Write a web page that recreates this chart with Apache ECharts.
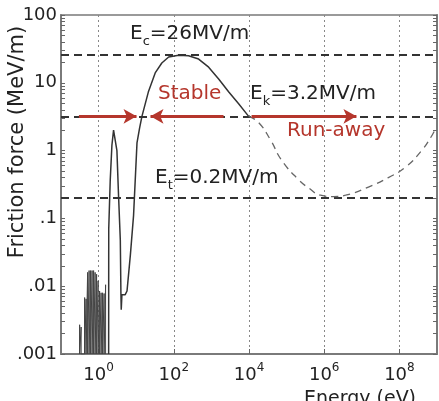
<!DOCTYPE html>
<html><head><meta charset="utf-8">
<script src="https://cdn.jsdelivr.net/npm/echarts@6/dist/echarts.min.js"></script>
<style>html,body{margin:0;padding:0;background:#fff}#c{width:439px;height:401px}</style>
</head><body><div id="c"></div>
<script>
// ---- data ----
const noiseEnergy = [0.313,0.343,0.425,0.465,0.510,0.559,0.613,0.672,0.736,0.807,0.885,0.97,1.063,1.165,1.277,1.40,1.535];
const noiseTop    = [0.0027,0.0025,0.0068,0.0065,0.016,0.017,0.017,0.017,0.017,0.016,0.015,0.012,0.0085,0.008,0.008,0.0078,0.0105];
const mainEnergy = [1.85,1.86,2.04,2.26,2.5,3.07,3.4,3.78,3.92,4.0,4.17,5.1,5.7,7.0,8.5,10.5,12.3,14.2,21,32,48,73,134,247,457,845,1560,2900,5300,9800];
const mainForce  = [0.001,0.07,0.37,1.2,2.0,1.0,0.21,0.048,0.0079,0.0045,0.0075,0.0075,0.0085,0.029,0.11,1.3,2.15,3.2,7.3,14,19.6,24,25.5,25,22.4,17,11.4,7.3,4.9,3.2];
const dashEnergy = [9800,18000,37000,74000,2.1e5,3.9e5,8e5,1.8e6,3.7e6,1.5e7,5.1e7,1.45e8,3.9e8,7.0e8,9.1e8];
const dashForce  = [3.2,2.6,1.45,0.72,0.37,0.28,0.22,0.21,0.22,0.29,0.40,0.57,1.0,1.6,2.1];
const fieldValues = [26, 3.2, 0.2];            // Ec, Ek, Et (MV/m)
const arrowFrom = [0.3, 2100, 11700];
const arrowTo   = [10.2, 24, 7.2e6];
const xTickValues = [1, 100, 1e4, 1e6, 1e8];
const yTickValues = [0.001, 0.01, 0.1, 1, 10, 100];
const yTickLabels = ['.001', '.01', '.1', '1', '10', '100'];

// ---- build ----
const FONT = '"DejaVu Sans", sans-serif';
const RED = '#b5362c';
const INK = '#222';
const noiseData = [];
noiseEnergy.forEach((e, i) => { noiseData.push([e, 0.001], [e, noiseTop[i]], [e, 0.001]); });
const mainData = mainEnergy.map((e, i) => [e, mainForce[i]]);
const dashData = dashEnergy.map((e, i) => [e, dashForce[i]]);
const yMinorTicks = [];
for (let d = 0; d < yTickValues.length - 1; d++) for (let m = 1; m < 10; m++) yMinorTicks.push(m * yTickValues[d]);
yMinorTicks.push(yTickValues[yTickValues.length - 1]);

const subRich = {
  a: {fontSize: 20, fontFamily: FONT, fill: INK, color: INK, verticalAlign: 'top', lineHeight: 24},
  s: {fontSize: 13, fontFamily: FONT, fill: INK, color: INK, verticalAlign: 'bottom', lineHeight: 11}
};

const chart = echarts.init(document.getElementById('c'), null, {renderer: 'canvas'});
const yAxisBase = {
  type: 'log', logBase: 10, min: 0.001, max: 100,
  axisLine: {show: true, lineStyle: {color: '#7a7a7a', width: 2}},
  axisTick: {show: true, inside: true, length: 4, customValues: yMinorTicks, lineStyle: {color: '#666', width: 1}},
  splitLine: {show: false}
};
chart.setOption({
  animation: false,
  grid: {left: 61, right: 2, top: 15, bottom: 47, show: true, borderColor: '#7a7a7a', borderWidth: 1.5, backgroundColor: 'transparent'},
  xAxis: {
    type: 'log', logBase: 10, min: 0.1, max: 1e9,
    axisLine: {lineStyle: {color: '#7a7a7a', width: 2}},
    axisTick: {show: true, inside: true, length: 5, customValues: xTickValues, lineStyle: {color: '#666'}},
    axisLabel: {
      customValues: xTickValues, margin: 8,
      formatter: v => '{b|10}{s|' + Math.round(Math.log10(v)) + '}',
      rich: {
        b: {fontSize: 18, fontFamily: FONT, color: INK, verticalAlign: 'bottom', lineHeight: 22},
        s: {fontSize: 12, fontFamily: FONT, color: INK, verticalAlign: 'top', lineHeight: 14}
      }
    },
    splitLine: {show: true, lineStyle: {color: '#888', type: [2, 3], width: 1}}
  },
  yAxis: [
    Object.assign({}, yAxisBase, {
      position: 'left',
      axisLabel: {
        customValues: yTickValues, margin: 4, fontSize: 18, fontFamily: FONT, color: INK,
        formatter: v => yTickLabels[yTickValues.findIndex(t => Math.abs(Math.log10(t) - Math.log10(v)) < 1e-6)]
      }
    }),
    Object.assign({}, yAxisBase, {position: 'right', axisLabel: {show: false}})
  ],
  series: [
    {type: 'line', name: 'noise', data: noiseData, symbol: 'none', z: 3,
     lineStyle: {color: '#444', width: 1}},
    {type: 'line', name: 'friction', data: mainData, symbol: 'none', z: 3,
     lineStyle: {color: '#333', width: 1.5}},
    {type: 'line', name: 'friction-ext', data: dashData, symbol: 'none', smooth: true, z: 3,
     lineStyle: {color: '#666', width: 1.3, type: [7, 5]},
     markLine: {
       silent: true, symbol: ['none', 'none'], label: {show: false}, z: 2,
       lineStyle: {color: '#333', width: 2, type: [8, 5]},
       data: fieldValues.map(v => ({yAxis: v}))
     }},
    {type: 'line', name: 'arrows', data: [], z: 5,
     markLine: {
       silent: true, symbol: ['none', 'arrow'], symbolSize: [11, 13], label: {show: false}, z: 5,
       lineStyle: {color: RED, width: 3, type: 'solid'},
       data: arrowFrom.map((a, i) => [{coord: [a, fieldValues[1]]}, {coord: [arrowTo[i], fieldValues[1]]}])
     }}
  ],
  graphic: [
    {type: 'text', x: 18, y: 142, rotation: Math.PI / 2,
     style: {text: 'Friction force (MeV/m)', font: '21px ' + FONT, fill: INK, align: 'center', verticalAlign: 'middle', textAlign: 'center', textVerticalAlign: 'middle'}},
    {type: 'text', x: 360, y: 399,
     style: {text: 'Energy (eV)', font: '19px ' + FONT, fill: INK, align: 'center', verticalAlign: 'middle', textAlign: 'center', textVerticalAlign: 'middle'}},
    {type: 'text', x: 130, y: 24, z: 10, style: {text: '{a|E}{s|c}{a|=26MV/m}', rich: subRich}},
    {type: 'text', x: 250, y: 84, z: 10, style: {text: '{a|E}{s|k}{a|=3.2MV/m}', rich: subRich}},
    {type: 'text', x: 155, y: 168, z: 10, style: {text: '{a|E}{s|t}{a|=0.2MV/m}', rich: subRich}},
    {type: 'text', x: 158, y: 84, z: 10, style: {text: 'Stable', font: '20px ' + FONT, fill: RED}},
    {type: 'text', x: 287, y: 121, z: 10, style: {text: 'Run-away', font: '20px ' + FONT, fill: RED}}
  ]
});
</script></body></html>
